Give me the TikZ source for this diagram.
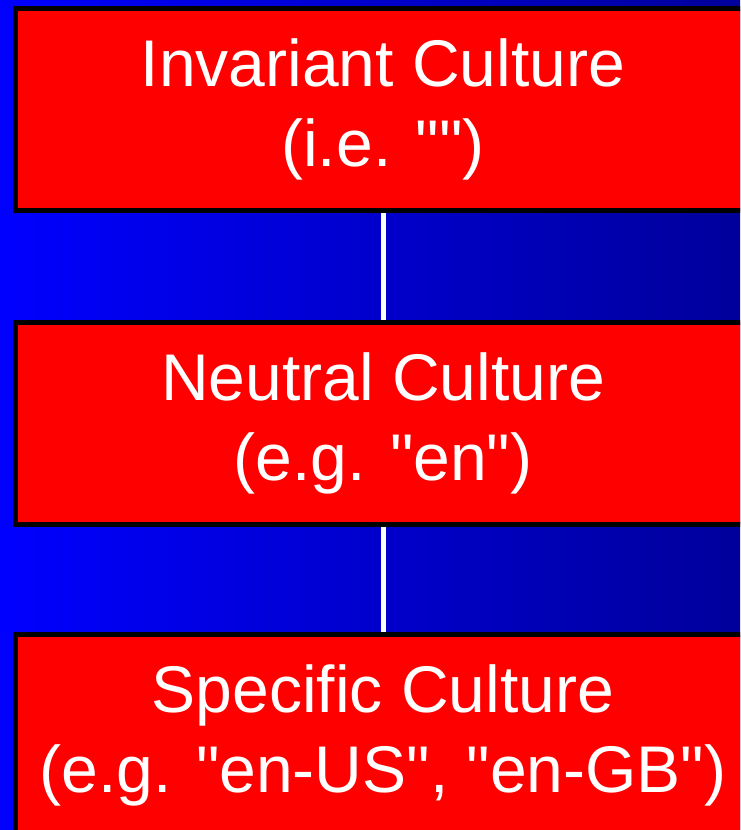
\documentclass[tikz,border=0pt]{standalone}
\usepackage{fontspec}
\setmainfont{Liberation Sans}[Ligatures=TeXOff]
\definecolor{bgleft}{RGB}{0,0,255}
\definecolor{bgright}{RGB}{0,0,155}
\definecolor{boxred}{RGB}{255,0,0}
\tikzset{
  culturebox/.style={draw=black, line width=5pt, fill=boxred, text=white,
    minimum width=735pt, minimum height=202pt, inner sep=0pt, align=center,
    font=\fontsize{66}{80}\selectfont},
  connector/.style={draw=white, line width=5pt}
}
\begin{document}
\begin{tikzpicture}[x=1pt,y=-1pt]
\useasboundingbox (0,0) rectangle (740,830);
\clip (0,0) rectangle (740,830);
\shade[left color=bgleft, right color=bgright] (0,0) rectangle (740,830);
\node[culturebox] (box1) at (383,109.5) {Invariant Culture\\(i.e. "")};
\node[culturebox] (box2) at (383,423) {Neutral Culture\\(e.g. "en")};
\node[culturebox] (box3) at (383,735.5) {Specific Culture\\(e.g. "en-US", "en-GB")};
\draw[connector] (box1.south) -- (box2.north);
\draw[connector] (box2.south) -- (box3.north);
\end{tikzpicture}
\end{document}
